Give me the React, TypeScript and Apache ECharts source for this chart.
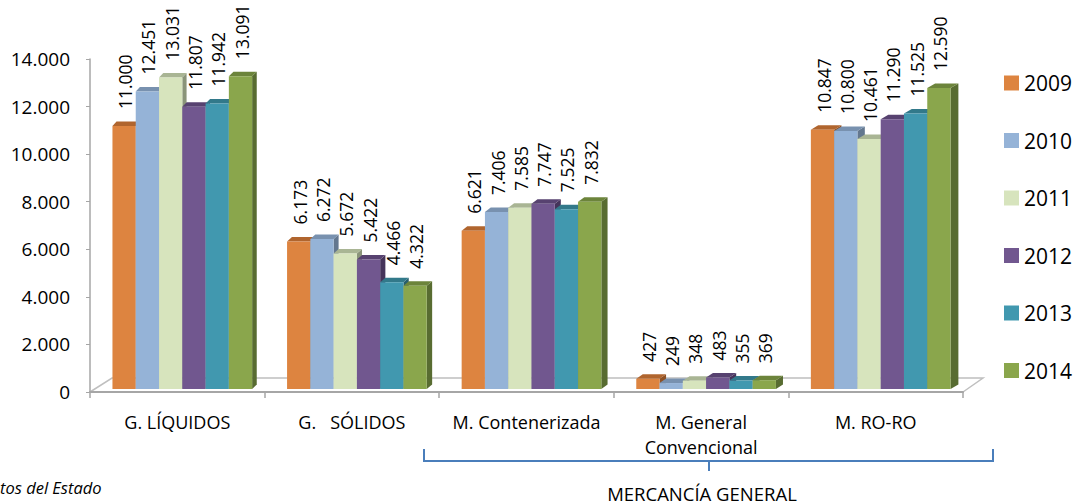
import React, { useEffect, useRef } from "react";
import * as echarts from "echarts";

const categories = ["G. LÍQUIDOS", "G.   SÓLIDOS", "M. Contenerizada", "M. General\nConvencional", "M. RO-RO"];
const years = ["2009", "2010", "2011", "2012", "2013", "2014"];
const y2009 = [11000, 6173, 6621, 427, 10847];
const y2010 = [12451, 6272, 7406, 249, 10800];
const y2011 = [13031, 5672, 7585, 348, 10461];
const y2012 = [11807, 5422, 7747, 483, 11290];
const y2013 = [11942, 4466, 7525, 355, 11525];
const y2014 = [13091, 4322, 7832, 369, 12590];
const seriesValues = [y2009, y2010, y2011, y2012, y2013, y2014];
const yTicks = [0, 2000, 4000, 6000, 8000, 10000, 12000, 14000];

const frontColors = ["#DD8440", "#95B3D7", "#D7E4BD", "#71578F", "#4198AF", "#8AA64C"];
const topColors = ["#B0652E", "#7891AF", "#A9B594", "#574270", "#32798A", "#6C843B"];
const sideColors = ["#8E5125", "#63778F", "#8A9479", "#45345A", "#285F6D", "#586C31"];

const FONT = '"Open Sans", "DejaVu Sans", sans-serif';
const fmt = (v: number) => String(v).replace(/\B(?=(\d{3})+(?!\d))/g, ".");

export default function App() {
  const ref = useRef<HTMLDivElement>(null);
  useEffect(() => {
    if (!ref.current) return;
    const chart = echarts.init(ref.current, null, { renderer: "svg" });
    const nYears = years.length;

    const makeRender = (yi: number) => (params: any, api: any) => {
      const cat = api.value(0);
      const val = api.value(1);
      const base = api.coord([cat, 0]);
      const top = api.coord([cat, val]);
      const band = api.size([1, 0])[0];
      const bw = (band * 0.8) / nYears;
      const x0 = base[0] - band * 0.4 + yi * bw;
      const x1 = x0 + bw;
      const yb = base[1];
      const yt = top[1];
      const dx = 4 + (4 * (x0 - 100)) / 860;
      const dy = 4.5;
      return {
        type: "group",
        children: [
          {
            type: "polygon",
            shape: { points: [[x1, yt], [x1 + dx, yt - dy], [x1 + dx, yb - dy], [x1, yb]] },
            style: { fill: sideColors[yi] },
          },
          {
            type: "polygon",
            shape: { points: [[x0, yt], [x1, yt], [x1 + dx, yt - dy], [x0 + dx, yt - dy]] },
            style: { fill: topColors[yi] },
          },
          {
            type: "rect",
            shape: { x: x0, y: yt, width: bw, height: yb - yt },
            style: { fill: frontColors[yi] },
          },
          {
            type: "text",
            x: x0 + bw / 2 + 1,
            y: yt - 17,
            rotation: Math.PI / 2,
            style: {
              text: fmt(val),
              fill: "#000",
              fontSize: 17.5,
              fontFamily: FONT,
              align: "left",
              verticalAlign: "middle",
            },
          },
        ],
      };
    };

    const series = years.map((name, yi) => ({
      type: "custom",
      name,
      xAxisIndex: 1,
      yAxisIndex: 1,
      encode: { x: 0, y: 1 },
      itemStyle: { color: frontColors[yi] },
      data: seriesValues[yi].map((v, ci) => [ci, v]),
      renderItem: makeRender(yi),
      clip: false,
    }));

    const axisGray = "#A6A6A6";
    chart.setOption({
      animation: false,
      textStyle: { fontFamily: FONT },
      grid: [
        { left: 90, width: 873, top: 59, height: 333 },
        { left: 95, width: 873, top: 54.4, height: 334.6 },
      ],
      xAxis: [
        {
          type: "category",
          gridIndex: 0,
          data: categories,
          boundaryGap: true,
          axisLine: { lineStyle: { color: axisGray, width: 2 } },
          axisTick: { show: true, length: 6, interval: 0, lineStyle: { color: axisGray, width: 1.5 } },
          axisLabel: { interval: 0, color: "#000", fontSize: 18, fontFamily: FONT, margin: 17, lineHeight: 25 },
        },
        { type: "category", gridIndex: 1, data: categories, show: false },
      ],
      yAxis: [
        {
          type: "value",
          gridIndex: 0,
          min: yTicks[0],
          max: yTicks[yTicks.length - 1],
          interval: 2000,
          splitLine: { show: false },
          axisLine: { show: true, lineStyle: { color: axisGray, width: 1.5 } },
          axisTick: { show: true, length: 4, lineStyle: { color: axisGray } },
          axisLabel: { color: "#000", fontSize: 19, fontFamily: FONT, margin: 20, formatter: (v: number) => fmt(v) },
        },
        { type: "value", gridIndex: 1, min: 0, max: 14000, show: false },
      ],
      legend: {
        orient: "vertical",
        left: 1004,
        top: 71,
        padding: 0,
        icon: "rect",
        itemWidth: 15,
        itemHeight: 15,
        itemGap: 33.5,
        data: years,
        textStyle: { fontSize: 21, fontFamily: FONT, color: "#000", lineHeight: 24 },
      },
      graphic: [
        {
          type: "polyline",
          shape: { points: [[90, 392], [112, 378], [983, 378], [963, 392]] },
          style: { stroke: "#BFBFBF", lineWidth: 1.5, fill: null },
          z: -1,
        },
        {
          type: "polyline",
          shape: { points: [[424, 449], [424, 461], [993, 461], [993, 449]] },
          style: { stroke: "#4A7EBB", lineWidth: 2, fill: null },
        },
        {
          type: "line",
          shape: { x1: 709, y1: 461, x2: 709, y2: 471 },
          style: { stroke: "#4A7EBB", lineWidth: 2 },
        },
        {
          type: "text",
          x: 702,
          y: 493,
          style: {
            text: "MERCANCÍA GENERAL",
            fill: "#000",
            fontSize: 18.5,
            fontFamily: FONT,
            align: "center",
            verticalAlign: "middle",
          },
        },
        {
          type: "text",
          x: 0,
          y: 487,
          style: {
            text: "tos del Estado",
            fill: "#000",
            fontSize: 16.5,
            fontStyle: "italic",
            fontFamily: FONT,
            align: "left",
            verticalAlign: "middle",
          },
        },
      ],
      series,
    });
    return () => chart.dispose();
  }, []);
  return (
    <div
      ref={ref}
      style={{ position: "fixed", left: 0, top: 0, width: 1083, height: 504, background: "#fff" }}
    />
  );
}
